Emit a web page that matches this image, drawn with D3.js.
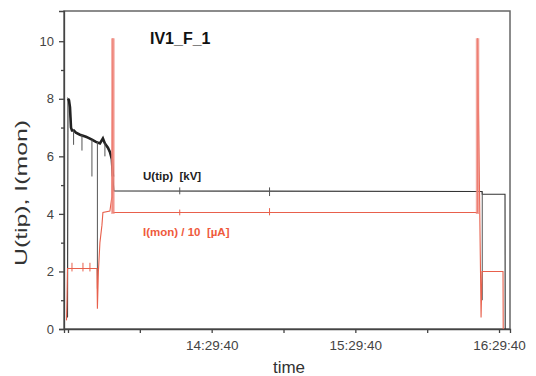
<!DOCTYPE html>
<html>
<head>
<meta charset="utf-8">
<script src="https://cdn.jsdelivr.net/npm/d3@7"></script>
<style>
  body { margin: 0; background: #fff; }
  svg { font-family: "Liberation Sans", Arial, sans-serif; }
  .axis path, .axis line { stroke: #444; stroke-width: 1.3; }
  .axis text { fill: #444; font-size: 13px; }
</style>
</head>
<body>
<div id="vis"></div>
<script>
// U(tip) trace [time, kV]
var uTrace = [
  ["13:29:28", 0.4], ["13:29:40", 8.0], ["13:30:05", 7.95], ["13:30:30", 7.7],
  ["13:30:55", 7.0], ["13:31:20", 6.9], ["13:32:10", 6.9], ["13:33:00", 6.82],
  ["13:34:40", 6.75], ["13:37:10", 6.68], ["13:38:00", 6.65], ["13:39:40", 6.58],
  ["13:41:20", 6.5], ["13:43:00", 6.45], ["13:44:15", 6.62], ["13:45:05", 6.45],
  ["13:46:20", 6.3], ["13:47:10", 6.15], ["13:48:00", 5.9], ["13:48:25", 5.3],
  ["13:48:50", 4.8], ["16:22:35", 4.78], ["16:22:40", 4.68], ["16:32:10", 4.68],
  ["16:32:15", 0]
];
// noise spikes on U(tip) [time, low, high]
var uSpikes = [
  ["13:32:00", 6.4, 6.9], ["13:35:30", 6.2, 6.75], ["13:39:40", 5.3, 6.58],
  ["13:41:57", 1.4, 6.5], ["13:45:05", 6.0, 6.45], ["14:16:20", 4.68, 4.92],
  ["14:53:50", 4.62, 4.92], ["16:22:40", 1.0, 4.78]
];
// I(mon)/10 trace [time, uA/10]
var iTrace = [
  ["13:29:03", 0.3], ["13:29:15", 1.0], ["13:29:27", 2.1], ["13:41:45", 2.1],
  ["13:41:57", 0.7], ["13:42:22", 2.0], ["13:43:00", 3.0], ["13:43:50", 3.6],
  ["13:44:15", 4.05], ["13:47:10", 4.1], ["13:48:00", 4.6], ["13:48:25", 10.1],
  ["13:48:25", 4.05], ["16:20:42", 4.05], ["16:20:42", 10.1], ["16:21:30", 4.9],
  ["16:22:10", 0.4], ["16:22:35", 2.0], ["16:31:20", 2.0], ["16:31:25", 0]
];
var iTicks = [
  ["13:31:20", 2.0, 2.3], ["13:35:55", 2.0, 2.3], ["13:38:50", 2.0, 2.3],
  ["14:16:20", 3.95, 4.15], ["14:53:50", 3.95, 4.2]
];
// broad current peaks [time, low, high]
var iPeaks = [["13:48:25", 4.0, 10.1], ["16:20:42", 4.0, 10.1]];

var xTickTimes = ["13:29:40", "13:59:40", "14:29:40", "14:59:40", "15:29:40", "15:59:40", "16:29:40"];
var xTickLabels = ["", "", "14:29:40", "", "15:29:40", "", "16:29:40"];
var yMajor = [0, 2, 4, 6, 8, 10];
var yMinor = [1, 3, 5, 7, 9];
var xDomain = ["13:28:00", "16:34:15"];
var yDomain = [0, 11.05];

var width = 536, height = 376,
    margin = {top: 11, right: 26, bottom: 47, left: 64},
    drawWidth = width - margin.left - margin.right,
    drawHeight = height - margin.top - margin.bottom;

var parse = d3.timeParse("%H:%M:%S");
var red = "#e8604c";

var svg = d3.select('#vis').append('svg')
    .attr('width', width)
    .attr('height', height);

var xScale = d3.scaleTime()
    .domain(xDomain.map(parse))
    .range([margin.left, margin.left + drawWidth]);
var yScale = d3.scaleLinear()
    .domain(yDomain)
    .range([margin.top + drawHeight, margin.top]);

// frame
svg.append('rect')
    .attr('x', margin.left).attr('y', margin.top)
    .attr('width', drawWidth).attr('height', drawHeight)
    .attr('fill', 'none').attr('stroke', '#666').attr('stroke-width', 1.5);

// axes
var xVals = xTickTimes.map(parse);
svg.append('g').attr('class', 'axis')
    .attr('transform', 'translate(0,' + (margin.top + drawHeight) + ')')
    .call(d3.axisBottom(xScale).tickValues(xVals).tickSizeOuter(0).tickSize(4)
        .tickFormat(function(d, i) { return xTickLabels[i]; }))
    .call(function(g) { g.selectAll('text').attr('dy', '1.05em').style('font-size', '13.5px'); });

svg.append('g').attr('class', 'axis')
    .attr('transform', 'translate(' + margin.left + ',0)')
    .call(d3.axisLeft(yScale).tickValues(yMajor).tickSizeOuter(0).tickSize(5).tickPadding(5)
        .tickFormat(d3.format('d')));
svg.append('g').attr('class', 'axis')
    .attr('transform', 'translate(' + margin.left + ',0)')
    .call(d3.axisLeft(yScale).tickValues(yMinor).tickSizeOuter(0).tickSize(3)
        .tickFormat(''))
    .select('.domain').remove();

var line = d3.line()
    .x(function(d) { return xScale(parse(d[0])); })
    .y(function(d) { return yScale(d[1]); });

var plot = svg.append('g');

// U(tip)
plot.append('path').datum(uTrace)
    .attr('d', line).attr('fill', 'none')
    .attr('stroke', '#333').attr('stroke-width', 1.1);
plot.append('path')
    .datum(uTrace.filter(function(d) { return parse(d[0]) >= parse("13:29:40") && parse(d[0]) <= parse("13:48:25"); }))
    .attr('d', line).attr('fill', 'none')
    .attr('stroke', '#222').attr('stroke-width', 2.6);
plot.selectAll('.uspike').data(uSpikes).enter().append('line')
    .attr('x1', function(d) { return xScale(parse(d[0])); })
    .attr('x2', function(d) { return xScale(parse(d[0])); })
    .attr('y1', function(d) { return yScale(d[1]); })
    .attr('y2', function(d) { return yScale(d[2]); })
    .attr('stroke', '#555').attr('stroke-width', 1);

// I(mon)/10
plot.append('path').datum(iTrace)
    .attr('d', line).attr('fill', 'none')
    .attr('stroke', red).attr('stroke-width', 1.1);
plot.selectAll('.itick').data(iTicks).enter().append('line')
    .attr('x1', function(d) { return xScale(parse(d[0])); })
    .attr('x2', function(d) { return xScale(parse(d[0])); })
    .attr('y1', function(d) { return yScale(d[1]); })
    .attr('y2', function(d) { return yScale(d[2]); })
    .attr('stroke', red).attr('stroke-width', 1);

// broad pink peaks
plot.selectAll('.peak').data(iPeaks).enter().append('line')
    .attr('x1', function(d) { return xScale(parse(d[0])); })
    .attr('x2', function(d) { return xScale(parse(d[0])); })
    .attr('y1', function(d) { return yScale(d[1]); })
    .attr('y2', function(d) { return yScale(d[2]); })
    .attr('stroke', '#f08a80').attr('stroke-width', 3.5).attr('opacity', 0.75);

// texts
svg.append('text').attr('x', 150).attr('y', 44)
    .style('font-size', '16px').style('font-weight', 'bold').attr('fill', '#111')
    .text('IV1_F_1');
svg.append('text').attr('x', 143).attr('y', 180)
    .style('font-size', '11.5px').style('font-weight', 'bold').attr('fill', '#222')
    .attr('xml:space', 'preserve')
    .text('U(tip)  [kV]');
svg.append('text').attr('x', 143).attr('y', 236)
    .style('font-size', '11.5px').style('font-weight', 'bold').attr('fill', '#ef5a3c')
    .attr('xml:space', 'preserve')
    .text('I(mon) / 10  [µA]');
svg.append('text')
    .attr('transform', 'translate(27,' + 193 + ') rotate(-90)')
    .attr('text-anchor', 'middle')
    .attr('textLength', 146).attr('lengthAdjust', 'spacingAndGlyphs')
    .style('font-size', '17px').attr('fill', '#333')
    .text('U(tip), I(mon)');
svg.append('text')
    .attr('x', 289).attr('y', 373)
    .attr('text-anchor', 'middle')
    .style('font-size', '17px').attr('fill', '#333')
    .text('time');
</script>
</body>
</html>
